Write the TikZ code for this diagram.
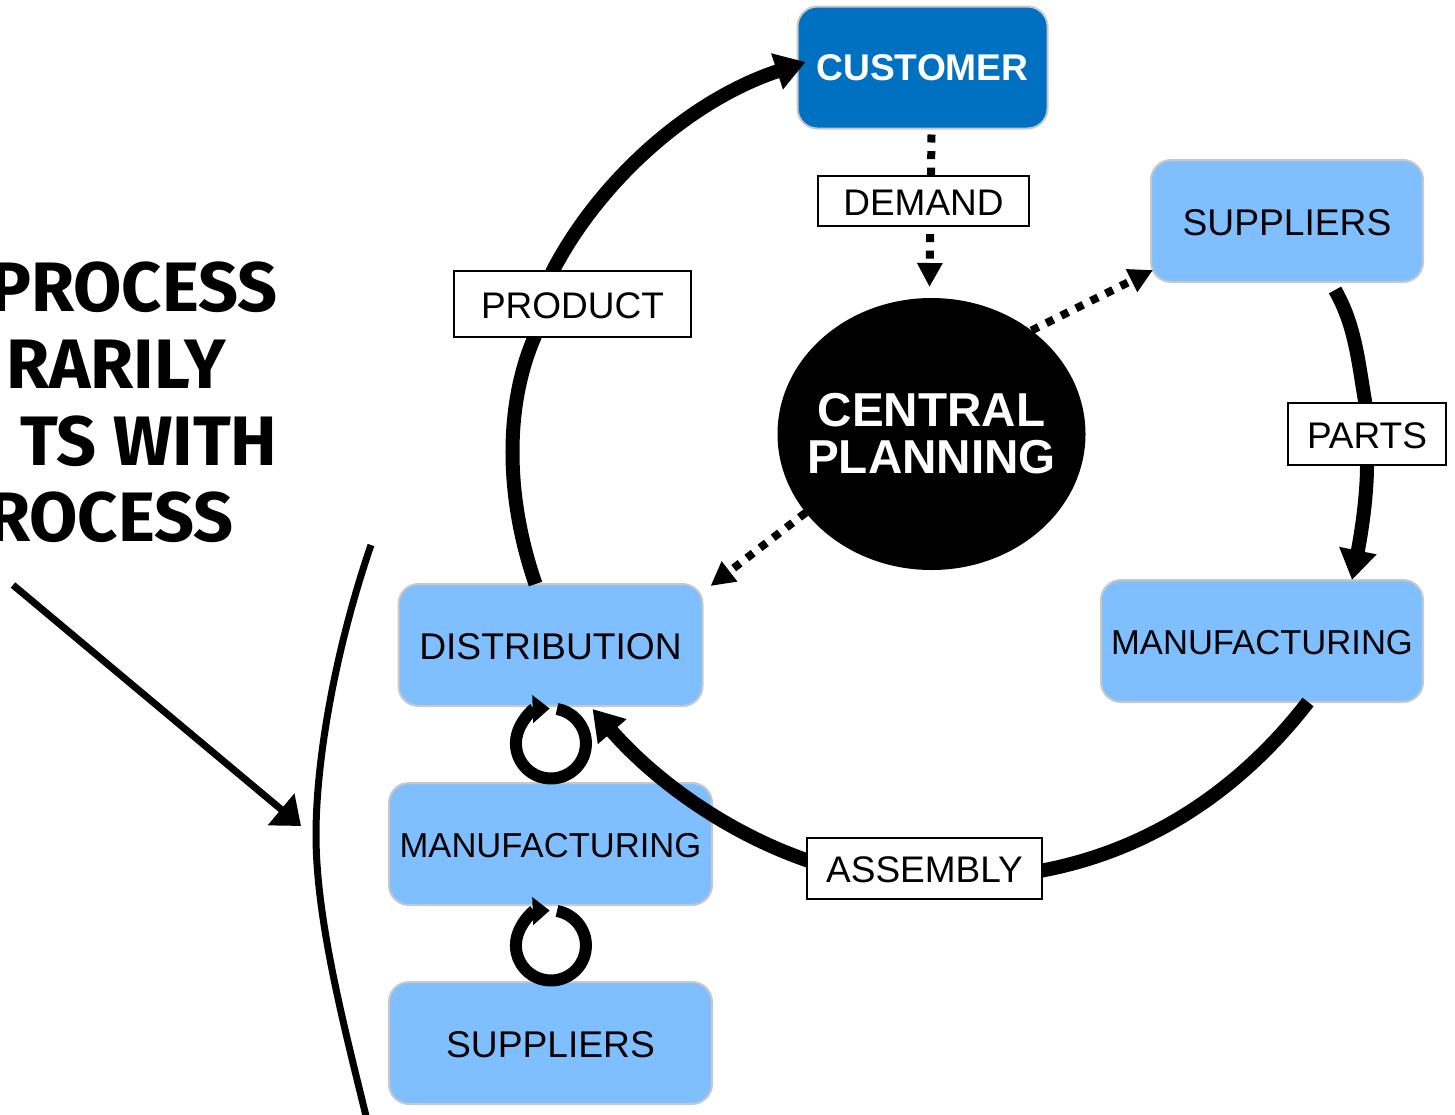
\documentclass[tikz,border=0pt]{standalone}
\usepackage{fontspec}
\setmainfont{Liberation Sans}
\newfontfamily\handfont{Fira Sans}
\usetikzlibrary{arrows.meta,shapes.geometric}
\pgfdeclarelayer{front}
\pgfsetlayers{main,front}
\definecolor{stepblue}{HTML}{80BFFF}
\definecolor{custblue}{HTML}{0070C0}
\definecolor{stepedge}{HTML}{C8C8C8}
\tikzset{
    stepbox/.style={draw=stepedge,line width=1pt,fill=stepblue,rounded corners=10pt,inner sep=0pt,outer sep=0pt,minimum height=61pt},
    bigname/.style={text height=14.2pt,text depth=0pt,font=\fontsize{18.6}{20}\selectfont},
    longname/.style={text height=13pt,text depth=0pt,font=\fontsize{17.3}{20}\selectfont},
    flowlabel/.style={draw=black,line width=1pt,fill=white,inner sep=0pt,outer sep=0pt,text height=14.3pt,text depth=0pt,font=\fontsize{18.5}{20}\selectfont},
    flowline/.style={line width=7pt,-{Triangle[length=15pt,width=18pt]}},
    infoline/.style={line width=4pt,dash pattern=on 4pt off 4.3pt,-{Triangle[length=12pt,width=12pt]}},
    loopline/.style={line width=6pt,-{Triangle[length=8.5pt,width=13.5pt]}},
    handtext/.style={anchor=base east,inner sep=0pt,font=\handfont\bfseries\fontsize{35}{38}\selectfont}
}
\begin{document}
\begin{tikzpicture}[x=0.5pt,y=-0.5pt]
                \useasboundingbox (0,0) rectangle (1455,1114);
                \node[stepbox,fill=custblue,minimum width=125pt,text=white,font=\bfseries\fontsize{18.6}{20}\selectfont](CUST) at (922.5,67.5) {CUSTOMER};
                \node[stepbox,minimum width=136pt,bigname](SUPR) at (1287,221) {SUPPLIERS};
                \node[stepbox,minimum width=161pt,longname](MANR) at (1262,641) {MANUFACTURING};
                \node[stepbox,minimum width=152pt,bigname](DIST) at (550.5,645) {DISTRIBUTION};
                \node[stepbox,minimum width=161.5pt,longname](MANL) at (550.5,844) {MANUFACTURING};
                \node[stepbox,minimum width=161.5pt,bigname](SUPL) at (550.5,1043) {SUPPLIERS};
                \node[ellipse,fill=black,text=white,inner sep=0pt,outer sep=0pt,minimum width=154pt,minimum height=136pt,align=center,font=\bfseries\fontsize{23.8}{23.5}\selectfont](PLAN) at (931.5,434) {\makebox[0pt]{CENTRAL}\\\makebox[0pt]{PLANNING}};
                \node[handtext](LINEA) at (278,311) {PROCESS};
                \node[handtext](LINEB) at (226,388) {RARILY};
                \node[handtext](LINEC) at (278,465) {TS WITH};
                \node[handtext](LINED) at (234,541) {ROCESS};
                \begin{pgfonlayer}{front}
                \node[flowlabel,minimum width=105.5pt,minimum height=25pt](DEM) at (923.5,201) {DEMAND};
                \node[flowlabel,minimum width=118.5pt,minimum height=33pt](PROD) at (572.5,304) {PRODUCT};
                \node[flowlabel,minimum width=79pt,minimum height=31pt](PART) at (1367,434) {PARTS};
                \node[flowlabel,minimum width=117.5pt,minimum height=30.5pt](ASM) at (924.5,868.5) {ASSEMBLY};
                \end{pgfonlayer}
                \coordinate (ARROWA) at (13,585);
                \coordinate (ARROWB) at (301,826);
                \coordinate (EDGEA) at (371,545);
                \coordinate (EDGEB) at (316,835);
                \coordinate (EDGEC) at (367,1120);
                \coordinate (LOOPA) at (557,709);
                \coordinate (LOOPB) at (557,911);
                \draw[flowline] ([xshift=-7.5pt]DIST.north) .. controls (503,490) and (507,400) .. (PROD.221) -- (PROD.121) .. controls (600,180) and (690,100) .. ([xshift=4pt,yshift=2.75pt]CUST.west);
                \draw[flowline] ([xshift=24pt,yshift=-4pt]SUPR.south) .. controls (1355,325) and (1358,360) .. ([yshift=1pt,xshift=-1pt]PART.north) -- (PART.south) .. controls (1367,500) and (1360,540) .. ([xshift=45pt]MANR.north);
                \draw[flowline] ([xshift=23pt]MANR.south) .. controls (1240,790) and (1150,850) .. (ASM.-1) -- (ASM.176) .. controls (720,830) and (650,775) .. ([xshift=21pt,yshift=-1.5pt]DIST.south);
                \draw[infoline] ([xshift=4.5pt,yshift=-3pt]CUST.south) -- ([xshift=-1pt,yshift=5.5pt]PLAN.north);
                \draw[infoline] (PLAN.46) -- ([xshift=1pt,yshift=-24.5pt]SUPR.west);
                \draw[infoline] (PLAN.212) -- ([xshift=4pt,yshift=-1pt]DIST.north east);
                \draw[loopline] (LOOPA) arc[start angle=80,end angle=-268,radius=17.5pt];
                \draw[loopline] (LOOPB) arc[start angle=80,end angle=-268,radius=17.5pt];
                \draw[line width=3.5pt,-{Triangle[length=13pt,width=20pt]}] (ARROWA) -- (ARROWB);
                \draw[line width=3.5pt] (EDGEA) .. controls (335,650) and (316,760) .. (EDGEB) .. controls (316,920) and (345,1030) .. (EDGEC);
            \end{tikzpicture}
\end{document}
